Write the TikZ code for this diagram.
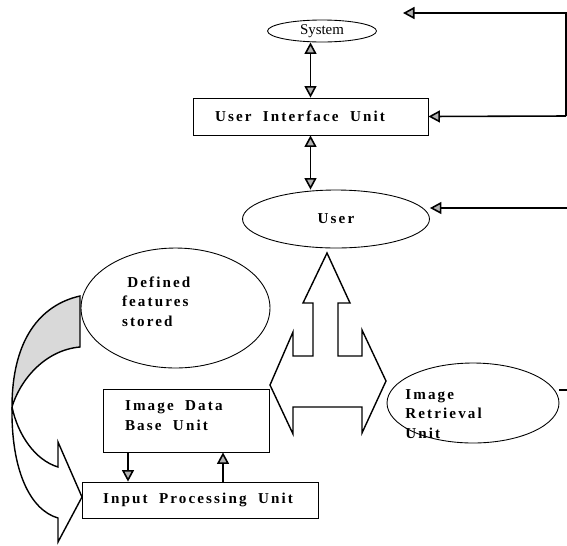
\documentclass[tikz,border=0pt]{standalone}
\usepackage{fontspec}
\setmainfont{Liberation Serif}
\newfontfamily\spacedfont[LetterSpace=14]{Liberation Serif}
\newcommand\unitfont{\spacedfont\bfseries\fontsize{8.6}{11}\selectfont}
\usepackage{tikz}
\usetikzlibrary{arrows.meta,shapes.geometric}

\begin{document}
\begin{tikzpicture}[x=0.02cm,y=-0.02cm,
        >={Triangle[length=2.3mm,width=2.4mm,fill=gray!60]},
        wide words/.style={execute at begin node={\spaceskip=6.5pt\relax}},
        unit/.style={draw, line width=0.5pt, rectangle, inner ysep=0pt, align=left, font=\unitfont, wide words},
        oval/.style={draw, line width=0.5pt, ellipse, inner sep=0pt, align=left, font=\unitfont, wide words},
        link/.style={line width=0.9pt},
        block/.style={line width=0.8pt}]
        \useasboundingbox (0,0) rectangle (567,545);

        % curved arrow from the stored features to the input unit
        \draw[block, fill=gray!30] (80,296) .. controls (40,305) and (12,340) .. (12,407)
            .. controls (20,380) and (45,350) .. (80,347) -- cycle;
        \draw[block] (12,407) .. controls (18,435) and (35,460) .. (58,467) -- (58,442)
            -- (82,497) -- (58,542) -- (58,518) .. controls (30,510) and (11,470) .. (12,407);

        % three way arrow
        \draw[block] (327,253) -- (350,303) -- (338,303) -- (338,356) -- (362,356)
            -- (362,330) -- (386,381) -- (362,433) -- (362,407) -- (293,407)
            -- (293,434) -- (270,385) -- (293,332) -- (293,356) -- (313,356)
            -- (313,303) -- (303,303) -- cycle;

        \node[oval, minimum width=2.18cm, minimum height=0.44cm,
            font=\fontsize{8.5}{10}\selectfont]                          (sys)       at (322,31)    {System};
        \node[unit, minimum height=0.74cm, text width=3.82cm, inner xsep=0.44cm] (ui)   at (310.5,116.5) {User Interface Unit};
        \node[oval, minimum width=3.74cm, minimum height=1.16cm]           (user)      at (336,219)   {User};
        \node[oval, minimum width=3.78cm, minimum height=2.4cm, text width=2.14cm, text depth=29.5pt] (stored) at (175.5,308) {\hspace*{3pt}Defined\\features\\stored};
        \node[oval, minimum width=3.44cm, minimum height=1.6cm]            (retrieval) at (473,403)   {};
        \node[align=left, anchor=west, inner sep=0pt, font=\unitfont]      (rettext)   at (405,414)   {Image\\Retrieval\\Unit};
        \node[unit, minimum height=1.26cm, text width=2.44cm, inner xsep=0.44cm, text depth=16.5pt] (db) at (186,420.5) {Image Data\\Base Unit};
        \node[unit, minimum height=0.72cm, text width=3.88cm, inner xsep=0.42cm] (inp)  at (200,500)   {Input Processing Unit};

        \coordinate (topin)  at (403,13);
        \coordinate (corner) at (566,13);
        \coordinate (uiin)   at (566,116);
        \coordinate (userin) at (567,208);
        \coordinate (retout) at (567,390);
        \coordinate (dbdown) at (128,0);
        \coordinate (dbup)   at (223,0);

        \draw[link,<->] (ui.north) -- (ui.north |- sys.south);
        \draw[link,<->] (ui.south) -- (ui.south |- user.north);
        \draw[link,->] (uiin) -- (corner) -- (topin);
        \draw[link,->] (uiin) -- (ui.east);
        \draw[link,->] (userin) -- (user.east |- userin);
        \draw[link] (retrieval.east |- retout) -- (retout);
        \draw[link,->] (db.south -| dbdown) -- (inp.north -| dbdown);
        \draw[link,->] (inp.north -| dbup) -- (db.south -| dbup);
    \end{tikzpicture}
\end{document}
